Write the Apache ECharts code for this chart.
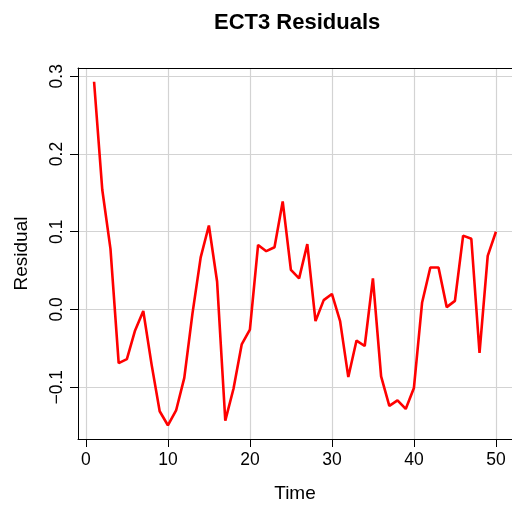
<!DOCTYPE html>
<html>
<head>
<meta charset="utf-8">
<script src="https://cdn.jsdelivr.net/npm/echarts@6/dist/echarts.min.js"></script>
<style>html,body{margin:0;padding:0;background:#fff}#c{width:512px;height:509px}</style>
</head>
<body>
<div id="c"></div>
<script>
const titleText = "ECT3 Residuals";
const xName = "Time";
const yName = "Residual";
const time = [1,2,3,4,5,6,7,8,9,10,11,12,13,14,15,16,17,18,19,20,21,22,23,24,25,26,27,28,29,30,31,32,33,34,35,36,37,38,39,40,41,42,43,44,45,46,47,48,49,50];
const residual = [0.293,0.154,0.078,-0.069,-0.064,-0.027,-0.002,-0.070,-0.131,-0.149,
  -0.130,-0.088,-0.005,0.067,0.108,0.036,-0.143,-0.102,-0.045,-0.026,
  0.083,0.075,0.080,0.139,0.051,0.040,0.084,-0.015,0.012,0.020,
  -0.015,-0.087,-0.040,-0.047,0.040,-0.086,-0.124,-0.117,-0.128,-0.101,
  0.009,0.054,0.054,0.003,0.011,0.095,0.091,-0.056,0.069,0.100];
const xTicks = [0,10,20,30,40,50];
const yTicks = [-0.1,0,0.1,0.2,0.3];

const font = "Liberation Sans";
const data = time.map((t,i)=>[t,residual[i]]);
const xmin = Math.min(...time), xmax = Math.max(...time);
const ymin = Math.min(...residual), ymax = Math.max(...residual);
const xr = (xmax-xmin)*0.04, yr = (ymax-ymin)*0.04;
const xMin = xmin-xr, xMax = xmax+xr;

const chart = echarts.init(document.getElementById('c'), null, {renderer:'canvas'});
chart.setOption({
  animation:false,
  backgroundColor:'#fff',
  title:{text:titleText,left:209,top:7,textStyle:{fontFamily:font,fontSize:22,fontWeight:'bold',color:'#000'}},
  grid:{left:78,top:68,width:435,height:371,show:false},
  xAxis:[{type:'value',min:xMin,max:xMax,position:'bottom',
    name:xName,nameLocation:'middle',nameGap:45,nameTextStyle:{fontFamily:font,fontSize:19,color:'#000'},
    axisLine:{show:true,onZero:false,lineStyle:{color:'#000',width:1}},
    axisTick:{show:true,inside:false,length:8,customValues:xTicks,lineStyle:{color:'#000'}},
    axisLabel:{customValues:xTicks,fontFamily:font,fontSize:17.5,color:'#000',margin:12,showMinLabel:true,showMaxLabel:true},
    splitLine:{show:true,lineStyle:{color:'#d3d3d3',width:1.2}}
  },{type:'value',min:xMin,max:xMax,position:'top',
    axisLine:{show:true,onZero:false,lineStyle:{color:'#000',width:1}},
    axisTick:{show:false},axisLabel:{show:false},splitLine:{show:false}
  }],
  yAxis:{type:'value',min:ymin-yr,max:ymax+yr,
    name:yName,nameLocation:'middle',nameGap:47,nameRotate:90,nameTextStyle:{fontFamily:font,fontSize:19,color:'#000'},
    axisLine:{show:true,onZero:false,lineStyle:{color:'#000',width:1}},
    axisTick:{show:true,inside:false,length:8,customValues:yTicks,lineStyle:{color:'#000'}},
    axisLabel:{customValues:yTicks,rotate:90,fontFamily:font,fontSize:17.5,color:'#000',margin:12,
      formatter:v=>{const s=Math.abs(v).toFixed(1);return v<-1e-9?'\u2212'+s:s;}},
    splitLine:{show:true,lineStyle:{color:'#d3d3d3',width:1.2}}
  },
  series:[{type:'line',xAxisIndex:0,data:data,symbol:'none',lineStyle:{color:'#ff0000',width:2.6},itemStyle:{color:'#ff0000'},clip:false}]
});
</script>
</body>
</html>
